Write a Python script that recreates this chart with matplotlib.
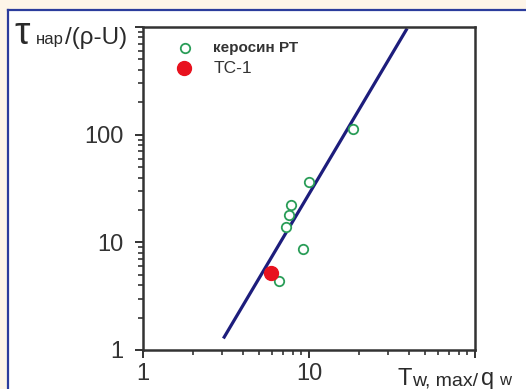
import matplotlib
matplotlib.use('Agg')
import matplotlib.pyplot as plt
from matplotlib.patches import Rectangle
from matplotlib.lines import Line2D
from matplotlib.ticker import FixedLocator, FixedFormatter, LogLocator, NullFormatter

plt.rcParams['font.family'] = ['Liberation Sans', 'DejaVu Sans']

# data
kero_x = [18.3, 10.0, 7.8, 7.6, 7.3, 9.2, 6.6]
kero_y = [113, 36, 22, 18, 14, 8.6, 4.4]
tc_x = [5.9]
tc_y = [5.2]
fit_x = [3.05, 39]
fit_y = [1.28, 970]
xticks = [1, 10, 100]
xticklabels = ['1', '10', '']
yticks = [1, 10, 100, 1000]
yticklabels = ['1', '10', '100', '']

W, H = 526, 389
def px(x, y):
    return x / W, 1 - y / H

fig = plt.figure(figsize=(W / 100, H / 100), dpi=100)
fig.patch.set_facecolor('#fdf5e8')
# white panel + blue frame lines
fig.patches.append(Rectangle(px(8, H), 1, 1 - 10 / H, transform=fig.transFigure,
                             facecolor='white', edgecolor='none', zorder=-5))
fig.add_artist(Line2D([7.5 / W, 7.5 / W], [0, 1 - 9.5 / H], transform=fig.transFigure,
                      color='#2b3c9c', lw=1.6))
fig.add_artist(Line2D([7.5 / W, 1], [1 - 9.5 / H, 1 - 9.5 / H], transform=fig.transFigure,
                      color='#2b3c9c', lw=1.6))

ax = fig.add_axes([143 / W, 1 - 350 / H, 332 / W, 323 / H])
ax.set_facecolor('none')
ax.set_zorder(2)
ax.set_xscale('log')
ax.set_yscale('log')
ax.set_xlim(1, 100)
ax.set_ylim(1, 1000)

ax.plot(fit_x, fit_y, '-', color='#1d1d7c', lw=2.3, solid_capstyle='butt', zorder=2)
ax.plot(kero_x, kero_y, 'o', ms=6.8, mfc='white', mec='#2a9d58', mew=1.3, zorder=3)
ax.plot(tc_x, tc_y, 'o', ms=10, color='#e8121e', zorder=4)

for s in ax.spines.values():
    s.set_color('#333333')
    s.set_linewidth(1.8)

ax.xaxis.set_major_locator(FixedLocator(xticks))
ax.xaxis.set_major_formatter(FixedFormatter(xticklabels))
ax.yaxis.set_major_locator(FixedLocator(yticks))
ax.yaxis.set_major_formatter(FixedFormatter(yticklabels))
ax.xaxis.set_minor_locator(LogLocator(base=10, subs=range(2, 10)))
ax.yaxis.set_minor_locator(LogLocator(base=10, subs=range(2, 10)))
ax.xaxis.set_minor_formatter(NullFormatter())
ax.yaxis.set_minor_formatter(NullFormatter())
ax.tick_params(which='major', direction='out', length=6, width=1.4, color='#333333',
               labelsize=17, labelcolor='#333333')
ax.tick_params(which='minor', direction='out', length=3.5, width=1.2, color='#333333')
ax.tick_params(axis='y', which='major', pad=8)
ax.tick_params(axis='x', which='major', pad=3)

# legend drawn by hand
ax.plot([0.1265], [0.935], 'o', ms=6.8, mfc='white', mec='#2a9d58', mew=1.3,
        transform=ax.transAxes, clip_on=False)
ax.plot([0.1235], [0.873], 'o', ms=10, color='#e8121e', transform=ax.transAxes, clip_on=False)
ax.text(0.211, 0.935, 'керосин РТ', transform=ax.transAxes, va='center', ha='left',
        fontsize=11, fontweight='bold', color='#333333')
ax.text(0.214, 0.873, 'TC-1', transform=ax.transAxes, va='center', ha='left',
        fontsize=12.5, color='#333333')

# axis titles, pieces of different size
tc = '#2a2a2a'
fig.text(*px(14, 44), 'τ', fontsize=28, ha='left', va='baseline', color=tc)
fig.text(*px(36, 44), 'нар', fontsize=12, ha='left', va='baseline', color=tc)
fig.text(*px(65, 44), '/(ρ-U)', fontsize=17.5, ha='left', va='baseline', color=tc)

fig.text(*px(398, 385), 'T', fontsize=17, ha='left', va='baseline', color=tc)
fig.text(*px(412, 385), 'w, max/', fontsize=14, ha='left', va='baseline', color=tc)
fig.text(*px(481, 385), 'q', fontsize=17, ha='left', va='baseline', color=tc)
fig.text(*px(499, 385), 'w', fontsize=12, ha='left', va='baseline', color=tc)

fig.savefig('out.png', dpi=100, facecolor=fig.get_facecolor())
